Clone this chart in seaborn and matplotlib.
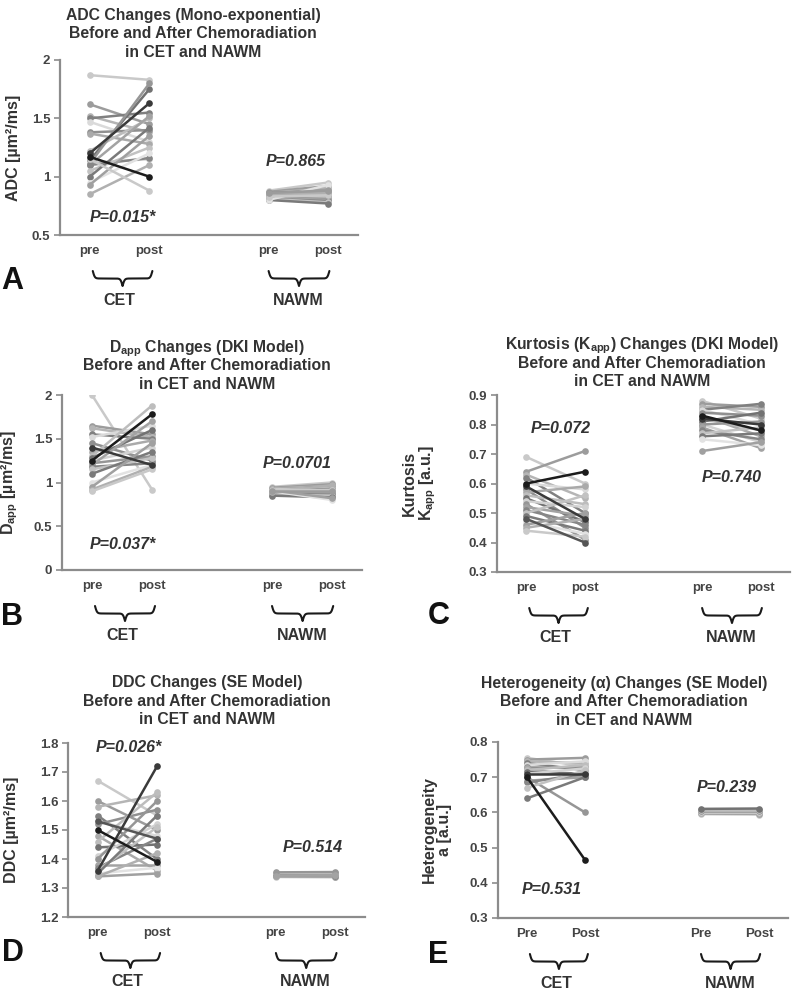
import numpy as np
import pandas as pd
import matplotlib
matplotlib.use("Agg")
import matplotlib.pyplot as plt
import matplotlib.transforms as mtransforms
import seaborn as sns

# --------------------------------------------------------------------------
# Data: paired pre / post values per subject
# --------------------------------------------------------------------------
adc_cet_pre = [1.87, 1.62, 1.52, 1.50, 1.47, 1.38, 1.37, 1.22, 1.14, 1.12, 1.11,
               1.10, 1.10, 1.05, 1.00, 0.95, 0.93, 0.85, 1.15, 1.20, 1.17]
adc_cet_post = [1.83, 1.45, 1.38, 1.55, 1.30, 1.40, 1.28, 1.50, 1.75, 1.15, 1.80,
                1.52, 1.16, 1.25, 1.42, 1.20, 1.35, 1.10, 0.88, 1.63, 1.00]
adc_nawm_pre = [0.88, 0.87, 0.86, 0.86, 0.85, 0.85, 0.84, 0.84, 0.83, 0.83,
                0.82, 0.82, 0.81, 0.81, 0.80, 0.80, 0.84, 0.85, 0.83, 0.86]
adc_nawm_post = [0.95, 0.92, 0.90, 0.88, 0.87, 0.86, 0.85, 0.84, 0.83, 0.82,
                 0.81, 0.80, 0.79, 0.78, 0.77, 0.93, 0.89, 0.86, 0.84, 0.88]

dapp_cet_pre = [2.00, 1.65, 1.62, 1.55, 1.52, 1.45, 1.35, 1.30, 1.28, 1.25, 1.22,
                1.20, 1.18, 1.15, 1.10, 1.00, 0.95, 0.92, 0.90, 1.40, 1.25]
dapp_cet_post = [0.92, 1.55, 1.52, 1.50, 1.65, 1.25, 1.48, 1.88, 1.60, 1.40, 1.30,
                 1.70, 1.22, 1.28, 1.35, 1.20, 1.45, 1.18, 1.15, 1.20, 1.78]
dapp_nawm_pre = [0.95, 0.94, 0.93, 0.92, 0.92, 0.91, 0.90, 0.90, 0.89, 0.89,
                 0.88, 0.88, 0.87, 0.86, 0.85, 0.90, 0.91, 0.89, 0.92, 0.90]
dapp_nawm_post = [1.00, 0.98, 0.96, 0.95, 0.94, 0.93, 0.92, 0.91, 0.90, 0.89,
                  0.88, 0.87, 0.86, 0.85, 0.83, 0.80, 0.82, 0.97, 0.91, 0.90]

kapp_cet_pre = [0.69, 0.64, 0.63, 0.62, 0.60, 0.58, 0.57, 0.56, 0.55, 0.54, 0.53,
                0.52, 0.51, 0.50, 0.49, 0.47, 0.46, 0.45, 0.44, 0.48, 0.59, 0.60]
kapp_cet_post = [0.60, 0.71, 0.55, 0.50, 0.58, 0.45, 0.59, 0.53, 0.47, 0.52, 0.41,
                 0.49, 0.46, 0.56, 0.44, 0.43, 0.50, 0.48, 0.42, 0.40, 0.48, 0.64]
kapp_nawm_pre = [0.88, 0.87, 0.86, 0.85, 0.85, 0.84, 0.83, 0.82, 0.81, 0.80,
                 0.80, 0.79, 0.78, 0.77, 0.76, 0.75, 0.71, 0.82, 0.83]
kapp_nawm_post = [0.82, 0.86, 0.85, 0.87, 0.80, 0.83, 0.76, 0.78, 0.84, 0.74,
                  0.81, 0.72, 0.75, 0.79, 0.77, 0.73, 0.74, 0.80, 0.78]

ddc_cet_pre = [1.67, 1.60, 1.58, 1.55, 1.53, 1.52, 1.48, 1.46, 1.44, 1.41, 1.40,
               1.38, 1.37, 1.36, 1.35, 1.35, 1.34, 1.34, 1.53, 1.36, 1.50]
ddc_cet_post = [1.55, 1.50, 1.62, 1.40, 1.48, 1.57, 1.36, 1.63, 1.45, 1.52, 1.60,
                1.38, 1.47, 1.51, 1.55, 1.37, 1.35, 1.42, 1.47, 1.72, 1.39]
ddc_nawm_pre = [1.338, 1.340, 1.342, 1.344, 1.345, 1.346, 1.347, 1.348, 1.350,
                1.352, 1.354, 1.343]
ddc_nawm_post = [1.337, 1.339, 1.341, 1.343, 1.345, 1.346, 1.347, 1.349, 1.351,
                 1.353, 1.355, 1.344]

alpha_cet_pre = [0.755, 0.750, 0.745, 0.740, 0.735, 0.730, 0.725, 0.720, 0.715,
                 0.710, 0.700, 0.690, 0.685, 0.670, 0.640, 0.710, 0.700]
alpha_cet_post = [0.730, 0.755, 0.740, 0.720, 0.745, 0.730, 0.700, 0.735, 0.710,
                  0.725, 0.600, 0.700, 0.710, 0.720, 0.700, 0.710, 0.465]
alpha_nawm_pre = [0.595, 0.597, 0.599, 0.600, 0.602, 0.604, 0.606, 0.608, 0.610]
alpha_nawm_post = [0.594, 0.596, 0.598, 0.600, 0.602, 0.604, 0.606, 0.608, 0.611]

# --------------------------------------------------------------------------
# Style
# --------------------------------------------------------------------------
sns.set_style("ticks")
plt.rcParams["font.family"] = ["Liberation Sans", "DejaVu Sans"]
plt.rcParams["font.weight"] = "bold"
plt.rcParams["mathtext.fontset"] = "custom"
plt.rcParams["mathtext.rm"] = "Liberation Sans:bold"
plt.rcParams["mathtext.default"] = "rm"

TEXT = "#333333"
LIGHT = ["#c9c9c9", "#9c9c9c", "#b5b5b5", "#808080", "#dadada", "#909090",
         "#aaaaaa", "#bdbdbd", "#727272", "#d2d2d2", "#969696", "#a3a3a3",
         "#868686", "#c2c2c2", "#7a7a7a", "#e2e2e2", "#a0a0a0", "#b0b0b0"]
DARK = ["#1c1c1c", "#3a3a3a", "#555555"]

W, H = 800, 993
fig = plt.figure(figsize=(W / 100, H / 100), dpi=100)


def shades(n, n_dark):
    base = [LIGHT[i % len(LIGHT)] for i in range(n - n_dark)]
    return base + DARK[:n_dark][::-1]


def brace(ax, x0, x1, h_px):
    blend = mtransforms.blended_transform_factory(ax.transData, ax.transAxes)
    t = np.linspace(0, 0.5, 100)
    beta = 60
    half = 1 / (1 + np.exp(-beta * (t - t[0]))) + 1 / (1 + np.exp(-beta * (t - t[-1])))
    y = np.concatenate([half, half[-2::-1]])
    x = np.linspace(x0, x1, len(y))
    ax.plot(x, -36 / h_px - (y - 0.5) * 15 / h_px, transform=blend,
            color="#1a1a1a", lw=1.5, clip_on=False)


def panel(box, cet_pre, cet_post, nawm_pre, nawm_post, dark_cet, dark_nawm,
          ylim, yticks, ylabel, label_px, xlabels, title, title_xy, letter,
          letter_xy, p_cet, p_nawm):
    left, top, right, bottom = box
    ax = fig.add_axes([left / W, 1 - bottom / H, (right - left) / W, (bottom - top) / H])
    w_px, h_px = right - left, bottom - top

    rows = []
    palette = {}
    for grp, pre, post, xa, xb, nd in [("CET", cet_pre, cet_post, 0, 1, dark_cet),
                                       ("NAWM", nawm_pre, nawm_post, 3, 4, dark_nawm)]:
        cols = shades(len(pre), nd)
        for i, (a, b) in enumerate(zip(pre, post)):
            key = f"{grp}{i}"
            rows.append({"line": key, "pos": xa, "value": a})
            rows.append({"line": key, "pos": xb, "value": b})
            palette[key] = cols[i]
    df = pd.DataFrame(rows)
    sns.lineplot(data=df, x="pos", y="value", hue="line", palette=palette,
                 estimator=None, marker="o", markersize=4.8, markeredgewidth=0,
                 linewidth=1.8, legend=False, ax=ax)

    for x0, x1 in [(0.05, 1.05), (3.0, 4.02)]:
        brace(ax, x0, x1, h_px)
    blend = mtransforms.blended_transform_factory(ax.transData, ax.transAxes)
    for xc, name in [(0.5, "CET"), (3.5, "NAWM")]:
        ax.text(xc, -65 / h_px, name, transform=blend, ha="center", va="center",
                fontsize=11.5, color=TEXT, fontweight="bold")

    ax.set_xlim(-0.5, 4.5)
    ax.set_ylim(*ylim)
    ax.set_yticks(yticks)
    ax.set_yticklabels([f"{t:g}" for t in yticks])
    ax.set_xticks([0, 1, 3, 4])
    ax.set_xticklabels(xlabels)
    ax.tick_params(axis="x", length=0, pad=7, labelsize=9.5, labelcolor="#444444")
    ax.tick_params(axis="y", length=4, width=1.2, color="#8c8c8c", labelsize=9.5,
                   labelcolor="#444444", pad=3)
    sns.despine(ax=ax)
    for s in ["left", "bottom"]:
        ax.spines[s].set_color("#8c8c8c")
        ax.spines[s].set_linewidth(1.6)
    ax.set_xlabel("")
    ax.set_ylabel(ylabel, fontsize=11.5, color=TEXT, fontweight="bold", linespacing=1.05)
    ax.yaxis.set_label_coords(-label_px / w_px, 0.5)

    for px, py, ptxt in [p_cet, p_nawm]:
        ax.text(px, py, ptxt, fontsize=11.5, fontstyle="italic", fontweight="bold",
                color=TEXT, ha="center", va="center")

    # title lines placed one by one so that subscripts do not change the spacing
    for k, line in enumerate(title.split("\n")):
        fig.text(title_xy[0] / W, 1 - (title_xy[1] + 18.5 * k) / H, line,
                 ha="center", va="baseline", fontsize=11.3, color=TEXT,
                 fontweight="bold")
    fig.text(letter_xy[0] / W, 1 - letter_xy[1] / H, letter, ha="left", va="center",
             fontsize=22, color="#111111", fontweight="bold")
    return ax


sub = "\nBefore and After Chemoradiation\nin CET and NAWM"
um = "[µm²/ms]"

panel((60, 60, 358, 235), adc_cet_pre, adc_cet_post, adc_nawm_pre, adc_nawm_post, 2, 0,
      (0.5, 2), [0.5, 1, 1.5, 2], f"ADC {um}", 39, ["pre", "post", "pre", "post"],
      "ADC Changes (Mono-exponential)" + sub, (193, 20), "A", (1, 281),
      (0.55, 0.65, "P=0.015*"), (3.45, 1.13, "P=0.865"))

panel((62, 395, 362, 570), dapp_cet_pre, dapp_cet_post, dapp_nawm_pre, dapp_nawm_post, 2, 0,
      (0, 2), [0, 0.5, 1, 1.5, 2], "D$_{app}$ " + um, 42, ["pre", "post", "pre", "post"],
      "D$_{app}$ Changes (DKI Model)" + sub, (207, 352), "B", (1, 617),
      (0.52, 0.29, "P=0.037*"), (3.42, 1.22, "P=0.0701"))

panel((497, 395, 790, 572), kapp_cet_pre, kapp_cet_post, kapp_nawm_pre, kapp_nawm_post, 3, 2,
      (0.3, 0.9), [0.3, 0.4, 0.5, 0.6, 0.7, 0.8, 0.9], "Kurtosis\nK$_{app}$ [a.u.]", 59,
      ["pre", "post", "pre", "post"],
      "Kurtosis (K$_{app}$) Changes (DKI Model)" + sub, (642, 349), "C", (428, 616),
      (0.58, 0.785, "P=0.072"), (3.5, 0.622, "P=0.740"))

panel((68, 743, 365, 917), ddc_cet_pre, ddc_cet_post, ddc_nawm_pre, ddc_nawm_post, 3, 0,
      (1.2, 1.8), [1.2, 1.3, 1.4, 1.5, 1.6, 1.7, 1.8], f"DDC {um}", 49,
      ["pre", "post", "pre", "post"],
      "DDC Changes (SE Model)" + sub, (207, 687), "D", (2, 953),
      (0.52, 1.783, "P=0.026*"), (3.62, 1.438, "P=0.514"))

panel((498, 742, 788, 918), alpha_cet_pre, alpha_cet_post, alpha_nawm_pre, alpha_nawm_post, 2, 0,
      (0.3, 0.8), [0.3, 0.4, 0.5, 0.6, 0.7, 0.8], "Heterogeneity\na [a.u.]", 46,
      ["Pre", "Post", "Pre", "Post"],
      "Heterogeneity (α) Changes (SE Model)" + sub, (624, 688), "E", (428, 955),
      (0.42, 0.38, "P=0.531"), (3.45, 0.672, "P=0.239"))

fig.savefig("out.png", dpi=100)
